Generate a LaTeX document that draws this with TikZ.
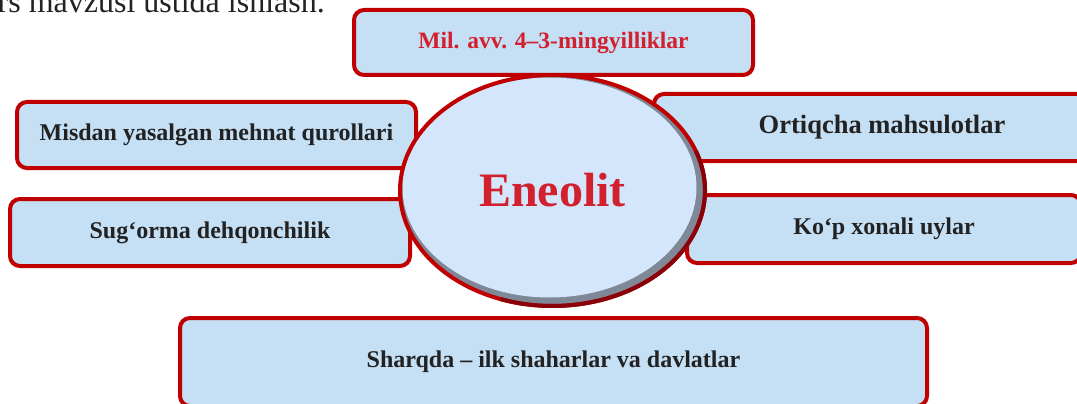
\documentclass[tikz,border=0pt]{standalone}
\usepackage{fontspec}
\setmainfont{Liberation Serif}
\usetikzlibrary{shapes.geometric}
\definecolor{boxred}{HTML}{C00000}
\definecolor{darkred}{HTML}{8A0008}
\definecolor{boxblue}{HTML}{C5DFF4}
\definecolor{ovalblue}{HTML}{D3E6FB}
\definecolor{ovalgray}{HTML}{7E8896}
\definecolor{titlered}{HTML}{D2202E}
\definecolor{textdark}{HTML}{222222}
\tikzset{
  infobox/.style={draw=boxred, line width=4pt, fill=boxblue, rounded corners=10pt,
    text=textdark, font=\bfseries\fontsize{24}{28}\selectfont, inner sep=0pt},
}
\begin{document}
\begin{tikzpicture}[x=1pt,y=-1pt]
\useasboundingbox (0,0) rectangle (1077,404);
\clip (0,0) rectangle (1077,404);
% heading line cut off at the top
\node[anchor=base east, inner sep=0pt, font=\fontsize{32}{36}\selectfont, text=textdark] (heading) at (325,13) {urs mavzusi ustida ishlash.};
% boxes round the oval
\node[infobox, minimum width=399pt, minimum height=65pt, text=titlered, font=\bfseries\fontsize{23.5}{28}\selectfont] (davr) at (553.5,42.5) {Mil. avv. 4–3-mingyilliklar};
\node[infobox, minimum width=399pt, minimum height=66pt] (mis) at (216.5,135) {Misdan yasalgan mehnat qurollari};
\node[infobox, minimum width=400pt, minimum height=67pt] (sugorma) at (210,232.5) {Sug‘orma dehqonchilik};
\node[infobox, minimum width=456pt, minimum height=67pt, font=\bfseries\fontsize{26.5}{30}\selectfont] (ortiqcha) at (882,127.5) {Ortiqcha mahsulotlar};
\node[infobox, minimum width=394pt, minimum height=68pt] (uylar) at (884,229) {Ko‘p xonali uylar};
\node[infobox, minimum width=747pt, minimum height=88pt] (sharq) at (553.5,362) {Sharqda – ilk shaharlar va davlatlar};
% central oval with a bevel
\fill[ovalgray] (552.5,190.5) ellipse [x radius=152pt, y radius=115pt];
\fill[ovalblue] (549.5,187.5) ellipse [x radius=147pt, y radius=110pt];
\node[ellipse, draw=boxred, line width=4pt, minimum width=305pt, minimum height=231pt,
  text=titlered, font=\bfseries\fontsize{48}{52}\selectfont] (eneolit) at (552.5,190.5) {Eneolit};
\draw[darkred, line width=4pt] ([shift={(20:152.5pt and 115.5pt)}]eneolit.center) arc [start angle=20, end angle=-110, x radius=152.5pt, y radius=115.5pt];
\end{tikzpicture}
\end{document}
